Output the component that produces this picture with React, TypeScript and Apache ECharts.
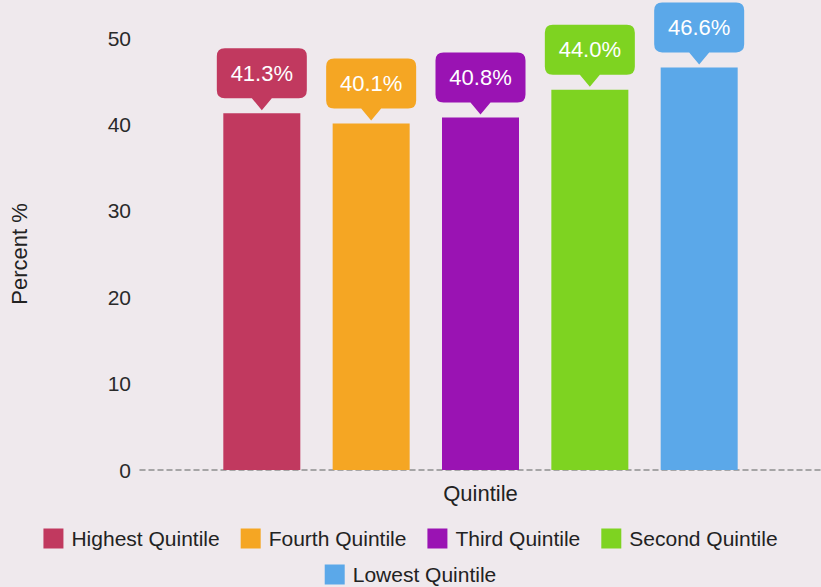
import React, { useEffect, useRef } from "react";
import * as echarts from "echarts";

const seriesNames = ["Highest Quintile", "Fourth Quintile", "Third Quintile", "Second Quintile", "Lowest Quintile"];
const seriesValues = [41.3, 40.1, 40.8, 44.0, 46.6];
const seriesColors = ["#c1395f", "#f5a623", "#9a13b3", "#7ed321", "#5ba8e9"];
const categories = [""];
const yTicks = [0, 10, 20, 30, 40, 50];

const FONT = "'Liberation Sans', Arial, sans-serif";
const CALLOUT =
  "path://M8 0 H82 Q90 0 90 8 V42 Q90 50 82 50 H55 L45 62 L35 50 H8 Q0 50 0 42 V8 Q0 0 8 0 Z";

export default function App() {
  const ref = useRef<HTMLDivElement>(null);
  useEffect(() => {
    document.body.style.margin = "0";
    const chart = echarts.init(ref.current!, undefined, { renderer: "svg" });
    const series = seriesNames.map((name, i) => ({
      name,
      type: "bar",
      data: [seriesValues[i]],
      barWidth: 77,
      barGap: "42%",
      itemStyle: { color: seriesColors[i] },
      emphasis: { disabled: true },
      markPoint: {
        symbol: CALLOUT,
        symbolSize: [90, 62],
        symbolOffset: [0, -34],
        itemStyle: { color: seriesColors[i] },
        label: {
          show: true,
          position: "inside",
          offset: [0, -6],
          color: "#ffffff",
          fontSize: 22,
          fontFamily: FONT,
          formatter: (p: any) => Number(p.value).toFixed(1) + "%",
        },
        emphasis: { disabled: true },
        data: [{ type: "max" }],
      },
    }));
    const legendBase = {
      left: "center",
      icon: "rect",
      itemWidth: 20,
      itemHeight: 20,
      itemGap: 21,
      textStyle: { fontSize: 21, color: "#222", fontFamily: FONT, padding: [0, 0, 0, 3] },
    };
    chart.setOption({
      animation: false,
      backgroundColor: "#efe9ed",
      textStyle: { fontFamily: FONT },
      grid: { left: 140, right: 0, top: 38, bottom: 117 },
      legend: [
        { ...legendBase, data: seriesNames.slice(0, 4), top: 523 },
        { ...legendBase, data: seriesNames.slice(4), top: 559 },
      ],
      xAxis: {
        type: "category",
        data: categories,
        name: "Quintile",
        nameLocation: "middle",
        nameGap: 12,
        nameTextStyle: { fontSize: 22, color: "#222", fontFamily: FONT },
        axisLine: { show: true, lineStyle: { color: "#8f8f8f", type: [5, 4], width: 1.5 } },
        axisTick: { show: false },
        axisLabel: { show: false },
      },
      yAxis: {
        type: "value",
        min: yTicks[0],
        max: yTicks[yTicks.length - 1],
        interval: yTicks[1] - yTicks[0],
        name: "Percent %",
        nameLocation: "middle",
        nameRotate: 90,
        nameGap: 110,
        nameTextStyle: { fontSize: 22, color: "#222", fontFamily: FONT },
        axisLine: { show: false },
        axisTick: { show: false },
        splitLine: { show: false },
        axisLabel: { fontSize: 21, color: "#2a2a2a", margin: 9, fontFamily: FONT },
      },
      series,
    });
    return () => chart.dispose();
  }, []);
  return <div ref={ref} style={{ position: "fixed", left: 0, top: 0, width: 821, height: 587 }} />;
}
